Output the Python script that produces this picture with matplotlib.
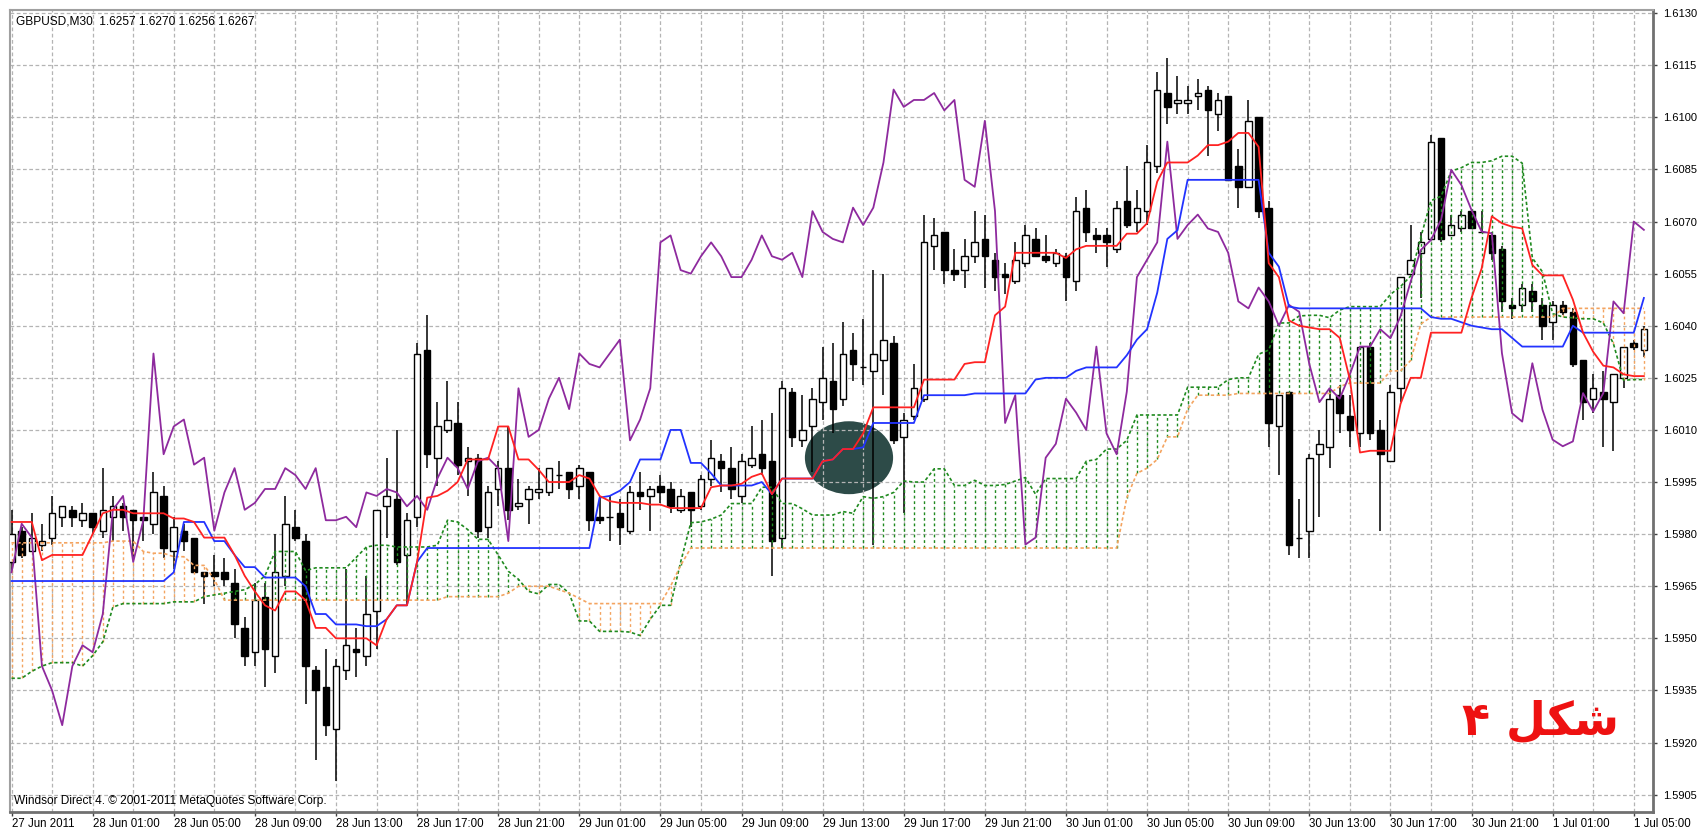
import numpy as np
import matplotlib
matplotlib.use("Agg")
import matplotlib.pyplot as plt
from matplotlib.patches import Ellipse

# GBPUSD M30, bar 0 = 27 Jun 2011 21:00
opens = [
    1.5972, 1.5981, 1.5975, 1.5977, 1.5979, 1.5985, 1.5987, 1.5984, 1.5986, 1.5981,
    1.5985, 1.5988, 1.5987, 1.5985, 1.5983, 1.5991, 1.5975, 1.5981, 1.5979, 1.5969,
    1.5969, 1.5969, 1.5966, 1.5953, 1.5946, 1.5962, 1.5945, 1.5968, 1.5982, 1.5978,
    1.5941, 1.5936, 1.5924, 1.5941, 1.5947, 1.5945, 1.5958, 1.5988, 1.5990, 1.5974,
    1.5985, 1.6033, 1.6002, 1.6010, 1.6012, 1.6001, 1.6002, 1.5982, 1.5993, 1.5999,
    1.5988, 1.5990, 1.5992, 1.5992, 1.5997, 1.5998, 1.5994, 1.5998, 1.5985, 1.5985,
    1.5986, 1.5981, 1.5992, 1.5991, 1.5994, 1.5993, 1.5987, 1.5992, 1.5988, 1.5996,
    1.6001, 1.5999, 1.5991, 1.6000, 1.6003, 1.6001, 1.5979, 1.6021, 1.6007, 1.6011,
    1.6018, 1.6024, 1.6019, 1.6033, 1.6028, 1.6027, 1.6030, 1.6035, 1.6008, 1.6014,
    1.6019, 1.6063, 1.6067, 1.6056, 1.6056, 1.6060, 1.6065, 1.6059, 1.6055, 1.6053,
    1.6058, 1.6065, 1.6060, 1.6058, 1.6060, 1.6053, 1.6074, 1.6066, 1.6066, 1.6062,
    1.6076, 1.6070, 1.6073, 1.6086, 1.6107, 1.6104, 1.6104, 1.6106, 1.6108, 1.6101,
    1.6106, 1.6086, 1.6080, 1.6100, 1.6074, 1.6011, 1.6021, 1.5979, 1.5981, 1.6003,
    1.6005, 1.6020, 1.6014, 1.6009, 1.6034, 1.6010, 1.6001, 1.6022, 1.6055, 1.6061,
    1.6065, 1.6094, 1.6066, 1.6068, 1.6073, 1.6067, 1.6066, 1.6062, 1.6046, 1.6046,
    1.6050, 1.6046, 1.6041, 1.6046, 1.6044, 1.6030, 1.6019, 1.6021, 1.6018, 1.6025,
    1.6035, 1.6033,
]
highs = [
    1.5987, 1.5982, 1.5986, 1.5983, 1.5991, 1.5988, 1.5988, 1.5989, 1.5986, 1.5999,
    1.5991, 1.5989, 1.5987, 1.5985, 1.5998, 1.5994, 1.5985, 1.5983, 1.5979, 1.5969,
    1.5974, 1.5973, 1.5970, 1.5956, 1.5966, 1.5966, 1.5980, 1.5991, 1.5987, 1.5980,
    1.5942, 1.5947, 1.5944, 1.5970, 1.5953, 1.5968, 1.5987, 1.6002, 1.6010, 1.5986,
    1.6035, 1.6043, 1.6018, 1.6024, 1.6018, 1.6005, 1.6003, 1.5994, 1.6001, 1.6011,
    1.5996, 1.5994, 1.5999, 1.5999, 1.6001, 1.5998, 1.6000, 1.5998, 1.5991, 1.5991,
    1.5990, 1.5994, 1.5998, 1.5994, 1.5997, 1.5995, 1.5993, 1.5992, 1.5997, 1.6007,
    1.6003, 1.6005, 1.6003, 1.6011, 1.6013, 1.6015, 1.6024, 1.6022, 1.6020, 1.6022,
    1.6034, 1.6035, 1.6041, 1.6038, 1.6042, 1.6056, 1.6055, 1.6037, 1.6015, 1.6029,
    1.6072, 1.6071, 1.6067, 1.6062, 1.6065, 1.6073, 1.6072, 1.6061, 1.6058, 1.6064,
    1.6069, 1.6068, 1.6066, 1.6062, 1.6061, 1.6077, 1.6079, 1.6068, 1.6068, 1.6076,
    1.6086, 1.6079, 1.6092, 1.6113, 1.6117, 1.6112, 1.6109, 1.6111, 1.6109, 1.6107,
    1.6106, 1.6091, 1.6105, 1.6100, 1.6076, 1.6020, 1.6021, 1.5990, 1.6003, 1.6010,
    1.6022, 1.6023, 1.6020, 1.6034, 1.6035, 1.6013, 1.6023, 1.6054, 1.6069, 1.6067,
    1.6095, 1.6094, 1.6072, 1.6073, 1.6073, 1.6073, 1.6067, 1.6063, 1.6048, 1.6052,
    1.6052, 1.6048, 1.6047, 1.6047, 1.6045, 1.6030, 1.6026, 1.6027, 1.6026, 1.6034,
    1.6036, 1.6040,
]
lows = [
    1.5969, 1.5973, 1.5975, 1.5975, 1.5977, 1.5982, 1.5982, 1.5982, 1.5980, 1.5979,
    1.5978, 1.5981, 1.5973, 1.5978, 1.5980, 1.5973, 1.5970, 1.5975, 1.5969, 1.5960,
    1.5965, 1.5965, 1.5950, 1.5942, 1.5942, 1.5936, 1.5940, 1.5965, 1.5978, 1.5931,
    1.5915, 1.5922, 1.5909, 1.5938, 1.5939, 1.5942, 1.5947, 1.5979, 1.5971, 1.5960,
    1.5982, 1.5999, 1.5994, 1.6009, 1.5997, 1.5991, 1.5979, 1.5979, 1.5988, 1.5984,
    1.5987, 1.5983, 1.5990, 1.5991, 1.5993, 1.5990, 1.5990, 1.5981, 1.5983, 1.5978,
    1.5977, 1.5980, 1.5987, 1.5981, 1.5989, 1.5986, 1.5986, 1.5982, 1.5987, 1.5994,
    1.5992, 1.5990, 1.5989, 1.5999, 1.5997, 1.5968, 1.5976, 1.6005, 1.6005, 1.5998,
    1.6013, 1.6009, 1.6017, 1.6024, 1.6023, 1.5977, 1.6020, 1.6006, 1.5986, 1.6013,
    1.6018, 1.6056, 1.6052, 1.6053, 1.6051, 1.6058, 1.6051, 1.6050, 1.6049, 1.6052,
    1.6057, 1.6060, 1.6058, 1.6057, 1.6047, 1.6050, 1.6064, 1.6061, 1.6057, 1.6061,
    1.6068, 1.6067, 1.6069, 1.6084, 1.6098, 1.6101, 1.6101, 1.6102, 1.6089, 1.6096,
    1.6082, 1.6074, 1.6080, 1.6071, 1.6005, 1.5997, 1.5974, 1.5973, 1.5973, 1.5985,
    1.5999, 1.6009, 1.6005, 1.6005, 1.6007, 1.5981, 1.6001, 1.6018, 1.6055, 1.6048,
    1.6065, 1.6064, 1.6066, 1.6067, 1.6068, 1.6067, 1.6059, 1.6044, 1.6042, 1.6044,
    1.6044, 1.6036, 1.6036, 1.6043, 1.6028, 1.6013, 1.6015, 1.6005, 1.6004, 1.6022,
    1.6033, 1.6031,
]
closes = [
    1.5980, 1.5974, 1.5979, 1.5978, 1.5986, 1.5988, 1.5985, 1.5986, 1.5982, 1.5987,
    1.5988, 1.5985, 1.5984, 1.5984, 1.5992, 1.5976, 1.5982, 1.5978, 1.5969, 1.5968,
    1.5968, 1.5967, 1.5954, 1.5945, 1.5961, 1.5947, 1.5969, 1.5983, 1.5979, 1.5942,
    1.5935, 1.5925, 1.5942, 1.5948, 1.5946, 1.5957, 1.5987, 1.5991, 1.5972, 1.5984,
    1.6032, 1.6003, 1.6011, 1.6013, 1.6000, 1.6002, 1.5981, 1.5992, 1.5999, 1.5987,
    1.5989, 1.5993, 1.5993, 1.5999, 1.5997, 1.5993, 1.5999, 1.5984, 1.5984, 1.5985,
    1.5982, 1.5992, 1.5991, 1.5993, 1.5992, 1.5988, 1.5991, 1.5987, 1.5996, 1.6002,
    1.5999, 1.5993, 1.6001, 1.6002, 1.5999, 1.5978, 1.6022, 1.6008, 1.6010, 1.6019,
    1.6025, 1.6016, 1.6032, 1.6029, 1.6028, 1.6032, 1.6036, 1.6007, 1.6013, 1.6022,
    1.6064, 1.6066, 1.6056, 1.6055, 1.6060, 1.6064, 1.6060, 1.6054, 1.6054, 1.6059,
    1.6066, 1.6060, 1.6059, 1.6061, 1.6054, 1.6073, 1.6067, 1.6065, 1.6064, 1.6074,
    1.6069, 1.6074, 1.6087, 1.6108, 1.6103, 1.6105, 1.6105, 1.6107, 1.6102, 1.6105,
    1.6082, 1.6080, 1.6099, 1.6073, 1.6012, 1.6020, 1.5977, 1.5979, 1.6002, 1.6006,
    1.6019, 1.6015, 1.6010, 1.6034, 1.6009, 1.6003, 1.6021, 1.6054, 1.6059, 1.6064,
    1.6093, 1.6065, 1.6069, 1.6072, 1.6068, 1.6067, 1.6061, 1.6047, 1.6045, 1.6051,
    1.6047, 1.6040, 1.6046, 1.6044, 1.6029, 1.6018, 1.6022, 1.6019, 1.6026, 1.6034,
    1.6034, 1.6039,
]

# Ichimoku lines
tenkan = [
    1.59835, 1.59835, 1.59835, 1.59725, 1.5974, 1.5974, 1.5974, 1.5974, 1.5980, 1.5986,
    1.5987, 1.5987, 1.5986, 1.5986, 1.5986, 1.5986, 1.59845, 1.59845, 1.59835, 1.5979,
    1.5979, 1.5979, 1.5974, 1.5968, 1.59635, 1.59595, 1.5958, 1.59635, 1.59635, 1.5961,
    1.5953, 1.5953, 1.5950, 1.5950, 1.5950, 1.5950, 1.5948, 1.59555, 1.59595, 1.59595,
    1.5972, 1.59905, 1.5991, 1.59925, 1.5995, 1.60015, 1.60015, 1.60015, 1.6011, 1.6011,
    1.60015, 1.60015, 1.59985, 1.5995, 1.5995, 1.5995, 1.5997, 1.5996, 1.5991, 1.59895,
    1.5989, 1.5989, 1.5989, 1.59885, 1.59885, 1.59875, 1.59875, 1.59875, 1.59875, 1.59935,
    1.5994, 1.5994, 1.59945, 1.59965, 1.59975, 1.59915, 1.5996, 1.5996, 1.5996, 1.5996,
    1.6001, 1.60015, 1.60045, 1.60045, 1.6009, 1.60165, 1.60165, 1.60165, 1.60165, 1.60165,
    1.60245, 1.60245, 1.60245, 1.60245, 1.6029, 1.60295, 1.60295, 1.6043, 1.60455, 1.6061,
    1.6061, 1.6061, 1.6061, 1.6061, 1.60595, 1.6062, 1.6063, 1.6063, 1.6063, 1.6063,
    1.60665, 1.60665, 1.60695, 1.60815, 1.6087, 1.6087, 1.6087, 1.6089, 1.6092, 1.6092,
    1.6093, 1.60955, 1.60955, 1.60915, 1.6058, 1.6054, 1.60415, 1.6040, 1.60395, 1.6039,
    1.6039, 1.60365, 1.60245, 1.60035, 1.6004, 1.6004, 1.6004, 1.60175, 1.6025, 1.6025,
    1.6038, 1.6038, 1.6038, 1.6038, 1.6048, 1.60565, 1.60715, 1.60695, 1.60685, 1.6068,
    1.60575, 1.60545, 1.60545, 1.60545, 1.60475, 1.6038, 1.60325, 1.60285, 1.6028, 1.6026,
    1.60255, 1.60255,
]
kijun = [
    1.59665, 1.59665, 1.59665, 1.59665, 1.59665, 1.59665, 1.59665, 1.59665, 1.59665, 1.59665,
    1.59665, 1.59665, 1.59665, 1.59665, 1.59665, 1.59665, 1.5969, 1.59835, 1.59835, 1.59835,
    1.5978, 1.5978, 1.5974, 1.59705, 1.59705, 1.59675, 1.59675, 1.59675, 1.59675, 1.5965,
    1.5957, 1.5957, 1.5954, 1.5954, 1.5954, 1.59535, 1.59535, 1.59555, 1.59595, 1.59595,
    1.5972, 1.5976, 1.5976, 1.5976, 1.5976, 1.5976, 1.5976, 1.5976, 1.5976, 1.5976,
    1.5976, 1.5976, 1.5976, 1.5976, 1.5976, 1.5976, 1.5976, 1.5976, 1.59905, 1.5991,
    1.59925, 1.5995, 1.60015, 1.60015, 1.60015, 1.6010, 1.6010, 1.60005, 1.60005, 1.59975,
    1.5994, 1.5994, 1.5994, 1.5994, 1.5995, 1.59915, 1.5996, 1.5996, 1.5996, 1.5996,
    1.6001, 1.60015, 1.60045, 1.60045, 1.6005, 1.6012, 1.6012, 1.6012, 1.6012, 1.6012,
    1.6020, 1.6020, 1.6020, 1.6020, 1.6020, 1.60205, 1.60205, 1.60205, 1.60205, 1.60205,
    1.60205, 1.60245, 1.6025, 1.6025, 1.6025, 1.6027, 1.6028, 1.6028, 1.6028, 1.6028,
    1.60315, 1.6036, 1.6039, 1.60495, 1.6065, 1.60675, 1.6082, 1.6082, 1.6082, 1.6082,
    1.6082, 1.6082, 1.6082, 1.6082, 1.6061, 1.6057, 1.60455, 1.6045, 1.6045, 1.6045,
    1.6045, 1.6045, 1.6045, 1.6045, 1.6045, 1.6045, 1.6045, 1.6045, 1.6045, 1.6045,
    1.60425, 1.6042, 1.6042, 1.6041, 1.6040, 1.60395, 1.6039, 1.6039, 1.60365, 1.6034,
    1.6034, 1.6034, 1.6034, 1.6034, 1.6040, 1.6038, 1.6038, 1.6038, 1.6038, 1.6038,
    1.6038, 1.6048,
]
span_a = [
    1.59385, 1.59385, 1.59405, 1.5942, 1.5943, 1.5943, 1.5943, 1.5942, 1.5945, 1.5949,
    1.5959, 1.5960, 1.5960, 1.5960, 1.5960, 1.5960, 1.59605, 1.59605, 1.59605, 1.5962,
    1.59625, 1.5963, 1.59635, 1.5964, 1.59655, 1.5968, 1.5975, 1.5975, 1.5975, 1.59695,
    1.59703, 1.59703, 1.59703, 1.59703, 1.59733, 1.59763, 1.59768, 1.59768, 1.59763, 1.59763,
    1.59763, 1.59763, 1.59768, 1.5984, 1.59835, 1.59813, 1.59785, 1.59785, 1.5974, 1.59693,
    1.5967, 1.59635, 1.59628, 1.59655, 1.59655, 1.5963, 1.5955, 1.5955, 1.5952, 1.5952,
    1.5952, 1.59518, 1.59508, 1.59555, 1.59595, 1.59595, 1.5972, 1.59833, 1.59835, 1.59843,
    1.59855, 1.59888, 1.59888, 1.59888, 1.59935, 1.59935, 1.59888, 1.59888, 1.59873, 1.59855,
    1.59855, 1.59855, 1.59865, 1.5986, 1.59908, 1.59903, 1.59908, 1.5992, 1.59953, 1.5995,
    1.5995, 1.59988, 1.59988, 1.5994, 1.5994, 1.59955, 1.5994, 1.5994, 1.59943, 1.59953,
    1.59963, 1.59915, 1.5996, 1.5996, 1.5996, 1.5996, 1.6001, 1.60015, 1.60045, 1.60045,
    1.6007, 1.60143, 1.60143, 1.60143, 1.60143, 1.60143, 1.60223, 1.60223, 1.60223, 1.60223,
    1.60245, 1.6025, 1.6025, 1.60318, 1.6033, 1.60408, 1.60408, 1.60428, 1.6043, 1.6043,
    1.60423, 1.60445, 1.60455, 1.60455, 1.60455, 1.60455, 1.6049, 1.60513, 1.60543, 1.60655,
    1.6076, 1.60773, 1.60845, 1.60855, 1.6087, 1.6087, 1.60875, 1.60888, 1.60888, 1.60868,
    1.60595, 1.60555, 1.60435, 1.60425, 1.60423, 1.6042, 1.6042, 1.60408, 1.60348, 1.60243,
    1.60245, 1.60245,
]
span_b = [
    1.59775, 1.59775, 1.59775, 1.59775, 1.59775, 1.59775, 1.59775, 1.59775, 1.59775, 1.59775,
    1.5978, 1.5978, 1.5978, 1.5975, 1.59745, 1.59745, 1.59735, 1.59735, 1.5971, 1.5971,
    1.5967, 1.5961, 1.5961, 1.5961, 1.5961, 1.5961, 1.5961, 1.5961, 1.5961, 1.5961,
    1.5961, 1.5961, 1.5961, 1.5961, 1.5961, 1.5961, 1.5961, 1.5961, 1.5961, 1.5961,
    1.5961, 1.5961, 1.5961, 1.5962, 1.5962, 1.5962, 1.5962, 1.5962, 1.5962, 1.5963,
    1.5965, 1.5965, 1.5965, 1.5965, 1.5964, 1.5963, 1.59615, 1.5960, 1.5960, 1.5960,
    1.5960, 1.5960, 1.5960, 1.5960, 1.5960, 1.5965, 1.5971, 1.5976, 1.5976, 1.5976,
    1.5976, 1.5976, 1.5976, 1.5976, 1.5976, 1.5976, 1.5976, 1.5976, 1.5976, 1.5976,
    1.5976, 1.5976, 1.5976, 1.5976, 1.5976, 1.5976, 1.5976, 1.5976, 1.5976, 1.5976,
    1.5976, 1.5976, 1.5976, 1.5976, 1.5976, 1.5976, 1.5976, 1.5976, 1.5976, 1.5976,
    1.5976, 1.5976, 1.5976, 1.5976, 1.5976, 1.5976, 1.5976, 1.5976, 1.5976, 1.5976,
    1.59905, 1.59975, 1.5999, 1.60015, 1.6008, 1.6008, 1.6016, 1.6020, 1.6020, 1.6020,
    1.6020, 1.60205, 1.60205, 1.60205, 1.60205, 1.60205, 1.60205, 1.60205, 1.60205, 1.60205,
    1.60205, 1.60225, 1.60235, 1.60235, 1.60235, 1.60235, 1.6027, 1.6027, 1.6030, 1.60405,
    1.60425, 1.60425, 1.60425, 1.60425, 1.60425, 1.60425, 1.60425, 1.60425, 1.60425, 1.60425,
    1.60425, 1.60425, 1.60425, 1.6045, 1.6045, 1.6045, 1.6045, 1.6045, 1.6045, 1.6045,
    1.6045, 1.6045,
]
# chikou = close shifted back 26 bars; the last 26 points come from bars past the right edge
chikou_tail = [
    1.60364, 1.60427, 1.60527, 1.60618, 1.60647, 1.60705, 1.60849, 1.60805, 1.60733, 1.60671,
    1.60666, 1.60321, 1.60148, 1.60124, 1.60292, 1.60158, 1.60072, 1.60053, 1.60067, 1.60206,
    1.60153, 1.60206, 1.6047, 1.60436, 1.607, 1.60676,
]

time_labels = ['27 Jun 2011', '28 Jun 01:00', '28 Jun 05:00', '28 Jun 09:00', '28 Jun 13:00',
               '28 Jun 17:00', '28 Jun 21:00', '29 Jun 01:00', '29 Jun 05:00', '29 Jun 09:00',
               '29 Jun 13:00', '29 Jun 17:00', '29 Jun 21:00', '30 Jun 01:00', '30 Jun 05:00',
               '30 Jun 09:00', '30 Jun 13:00', '30 Jun 17:00', '30 Jun 21:00', '1 Jul 01:00',
               '1 Jul 05:00']
price_ticks = [1.5905, 1.5920, 1.5935, 1.5950, 1.5965, 1.5980, 1.5995, 1.6010,
               1.6025, 1.6040, 1.6055, 1.6070, 1.6085, 1.6100, 1.6115, 1.6130]

RED = '#ff2222'
BLUE = '#2233ff'
PURPLE = '#8e2a9e'
GREEN = '#1f8a1f'
ORANGE = '#f4a460'
GRID = '#b4b4b4'

o = np.array(opens)
h = np.array(highs)
l = np.array(lows)
c = np.array(closes)
x = np.arange(len(c))
sa = np.array(span_a)
sb = np.array(span_b)
chikou = np.concatenate([c[26:], chikou_tail])

fig = plt.figure(figsize=(17, 8.34), dpi=100)
ax = fig.add_axes([10 / 1700, 22 / 834, 1643 / 1700, 802 / 834])
ax.set_xlim(-0.15, 161.9)
ax.set_ylim(1.5900, 1.61309)

# grid: every 4 bars and every price label
for gx in range(0, len(c), 4):
    ax.axvline(gx, color=GRID, lw=0.9, ls=(0, (3, 2)), zorder=1)
for gy in price_ticks:
    ax.axhline(gy, color=GRID, lw=0.9, ls=(0, (3, 2)), zorder=1)

# marker ellipse
ax.add_patch(Ellipse((82.6, 1.60020), width=8.7, height=0.0021,
                     facecolor='#2d4b48', edgecolor='none', zorder=0.5))

# candles
up = c >= o
body_lo = np.minimum(o, c)
body_h = np.abs(c - o)
ax.vlines(x, l, h, color='black', lw=1.1, zorder=3)
ax.bar(x[up], body_h[up], bottom=body_lo[up], width=0.64, facecolor='white',
       edgecolor='black', lw=1.0, zorder=4)
ax.bar(x[~up], body_h[~up], bottom=body_lo[~up], width=0.64, facecolor='black',
       edgecolor='black', lw=1.0, zorder=4)

# cloud hatching
hatch_cols = [GREEN if a > b else ORANGE for a, b in zip(sa, sb)]
ax.vlines(x, np.minimum(sa, sb), np.maximum(sa, sb), colors=hatch_cols,
          linestyles=(0, (2, 2)), lw=1.0, zorder=5)
ax.plot(x, sa, color=GREEN, lw=1.2, ls=(0, (2, 1.5)), zorder=5)
ax.plot(x, sb, color=ORANGE, lw=1.2, ls=(0, (2, 1.5)), zorder=5)

ax.plot(x, chikou, color=PURPLE, lw=1.3, zorder=6)
ax.plot(x, kijun, color=BLUE, lw=1.3, zorder=6)
ax.plot(x, tenkan, color=RED, lw=1.3, zorder=6)

# axes styling
ax.yaxis.tick_right()
ax.set_yticks(price_ticks)
ax.set_yticklabels(['%.4f' % p for p in price_ticks])
ax.set_xticks(np.arange(0, len(c), 8))
ax.set_xticklabels(time_labels)
for t in ax.get_xticklabels():
    t.set_horizontalalignment('left')
ax.tick_params(axis='y', length=3, width=1, color='#404040', pad=4,
               labelsize=8.0, labelfontfamily='Liberation Sans')
ax.tick_params(axis='x', length=3, width=1, color='#404040', pad=1,
               labelsize=8.3, labelfontfamily='Liberation Sans')
for side in ['top', 'left']:
    ax.spines[side].set_color('#a0a0a0')
    ax.spines[side].set_linewidth(1.5)
for side in ['right', 'bottom']:
    ax.spines[side].set_color('#707070')
    ax.spines[side].set_linewidth(2.0)

fig.text(16 / 1700, 1 - 22 / 834, 'GBPUSD,M30  1.6257 1.6270 1.6256 1.6267',
         fontsize=8.6, family='Liberation Sans', va='center', ha='left')
fig.text(14 / 1700, 1 - 801 / 834, 'Windsor Direct 4. \u00a9 2001-2011 MetaQuotes Software Corp.',
         fontsize=8.6, family='Liberation Sans', va='center', ha='left')
# "شکل ۴" in visual order with presentation forms (no text shaping in matplotlib)
fig.text(1540 / 1700, 1 - 722 / 834, '\u06f4 \ufede\ufb91\ufeb7', color='#ee1111',
         fontsize=33, fontweight='bold', family=['DejaVu Sans'], va='center', ha='center')

fig.savefig('out.png', dpi=100)
